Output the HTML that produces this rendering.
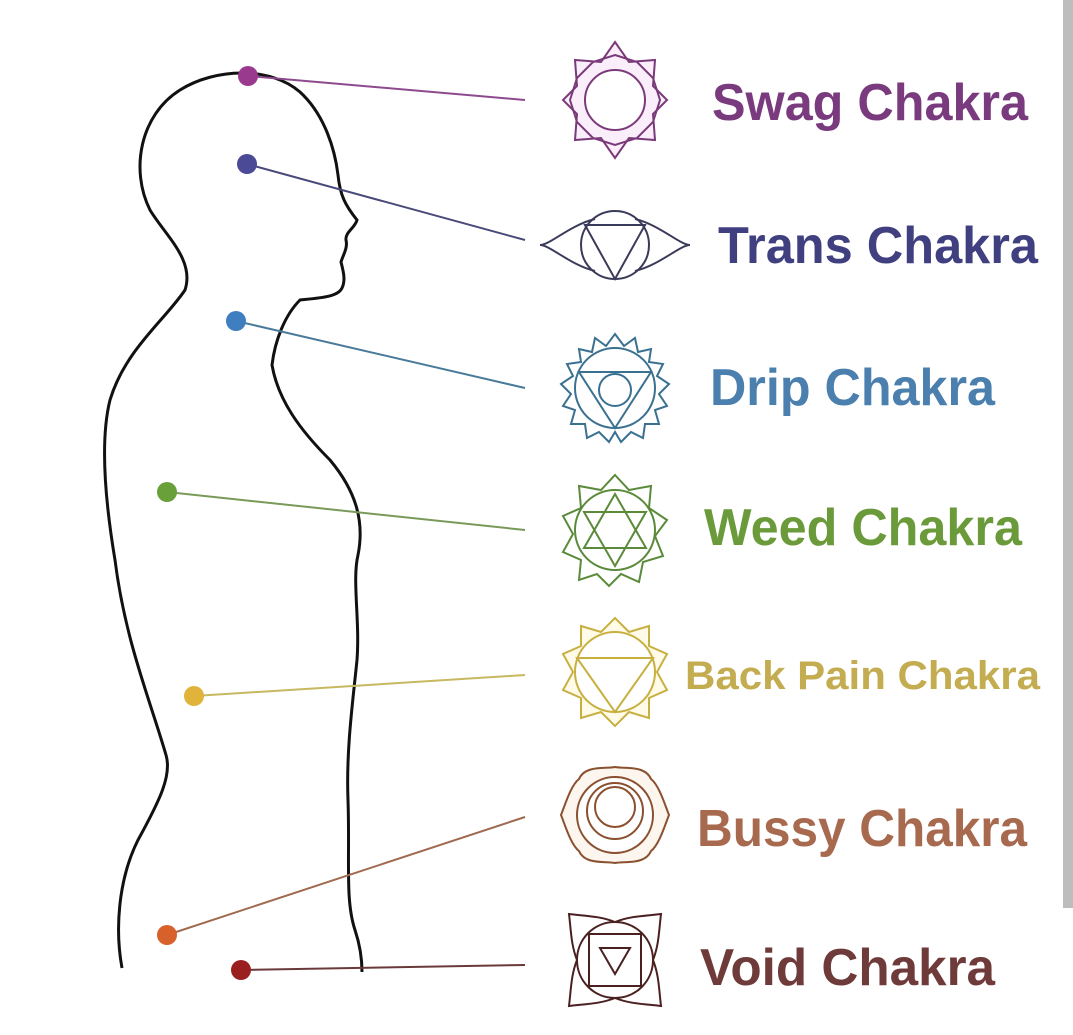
<!DOCTYPE html>
<html><head><meta charset="utf-8"><style>
html,body{margin:0;padding:0;background:#fff;width:1073px;height:1035px;overflow:hidden}
svg{display:block}
text{font-family:"Liberation Sans",sans-serif;font-weight:bold}
</style></head><body>
<svg width="1073" height="1035" viewBox="0 0 1073 1035" xmlns="http://www.w3.org/2000/svg">
<rect x="1063" y="0" width="10" height="908" fill="#bdbdbd"/>
<path d="M122,968 C115,930 118,880 138,840 C160,800 172,775 166,755 C150,700 125,640 115,560 C105,500 100,440 110,400 C125,350 165,320 185,290 C195,260 165,235 150,210 C130,170 140,115 180,90 C215,68 270,66 300,92 C325,115 335,150 338,175 C340,195 345,205 357,220 C355,228 345,232 346,240 C348,248 343,255 341,262 C343,270 346,280 342,288 C338,297 320,298 300,300 C285,315 275,340 272,365 C278,400 300,430 330,460 C355,490 365,520 358,555 C352,580 360,620 357,660 C353,700 346,750 348,800 C350,860 345,900 355,930 C360,945 362,960 362,972" fill="none" stroke="#111" stroke-width="3"/>
<g stroke-width="2" fill="none">
<line x1="248" y1="76" x2="525" y2="100" stroke="#8e4a8e"/>
<line x1="247" y1="164" x2="525" y2="240" stroke="#4a4a7a"/>
<line x1="236" y1="321" x2="525" y2="388" stroke="#4a7a9a"/>
<line x1="167" y1="492" x2="525" y2="530" stroke="#7a9a5a"/>
<line x1="194" y1="696" x2="525" y2="675" stroke="#c8b860"/>
<line x1="167" y1="935" x2="525" y2="817" stroke="#a06a50"/>
<line x1="241" y1="970" x2="525" y2="965" stroke="#6a3a3a"/>
</g>
<circle cx="248" cy="76" r="10" fill="#9a3a8e"/>
<circle cx="247" cy="164" r="10" fill="#4a4a96"/>
<circle cx="236" cy="321" r="10" fill="#3f7fbf"/>
<circle cx="167" cy="492" r="10" fill="#6aa03a"/>
<circle cx="194" cy="696" r="10" fill="#e0b43a"/>
<circle cx="167" cy="935" r="10" fill="#d8602a"/>
<circle cx="241" cy="970" r="10" fill="#9a2020"/>
<g fill="none" stroke-width="2">
<g stroke="#7a3a7a" transform="translate(615,100)">
<polygon points="0,-58 14,-38 40,-40 38,-14 52,0 38,14 40,40 14,38 0,58 -14,38 -40,40 -38,14 -52,0 -38,-14 -40,-40 -14,-38" fill="#fbeefb"/>
<polygon points="0,-45 22,-38 38,-22 45,0 38,22 22,38 0,45 -22,38 -38,22 -45,0 -38,-22 -22,-38"/>
<circle r="30" fill="#fff"/>
</g>
<g stroke="#3a3a5a" transform="translate(615,245)">
<path d="M-20,-26 C-45,-20 -65,0 -75,0 C-65,0 -45,20 -20,26"/>
<path d="M20,-26 C45,-20 65,0 75,0 C65,0 45,20 20,26"/>
<circle r="34"/>
<polygon points="-30,-20 30,-20 0,34"/>
</g>
<g stroke="#3a7090" transform="translate(615,388)">
<polygon points="0,-54 9,-42 20,-50 23,-36 36,-39 34,-26 48,-24 42,-12 54,-4 44,6 52,18 40,22 44,36 30,36 28,50 16,44 6,54 0,44 -6,54 -16,44 -28,50 -30,36 -44,36 -40,22 -52,18 -44,6 -54,-4 -42,-12 -48,-24 -34,-26 -36,-39 -23,-36 -20,-50 -9,-42"/>
<circle r="40"/>
<polygon points="-36,-16 36,-16 0,40"/>
<circle r="16" cy="2"/>
</g>
<g stroke="#5a8a3a" transform="translate(615,530)">
<polygon points="0,-55 14,-40 36,-44 34,-22 52,-10 40,6 48,26 28,32 24,52 6,44 -6,56 -18,44 -36,50 -34,30 -52,22 -42,4 -52,-14 -34,-22 -36,-44 -14,-40"/>
<circle r="40"/>
<polygon points="0,-36 31,18 -31,18"/>
<polygon points="0,36 31,-18 -31,-18"/>
</g>
<g stroke="#c8b040" transform="translate(615,672)">
<polygon points="0,-54 14,-40 34,-46 34,-26 52,-18 42,0 52,18 34,26 34,46 14,40 0,54 -14,40 -34,46 -34,26 -52,18 -42,0 -52,-18 -34,-26 -34,-46 -14,-40" fill="#fffbe8"/>
<circle r="40" fill="#fff"/>
<polygon points="-38,-14 38,-14 0,40"/>
</g>
<g stroke="#8a5030" transform="translate(615,815)">
<path d="M-36,-36 C-30,-50 -10,-46 0,-48 C10,-46 30,-50 36,-36 C44,-30 50,-10 54,0 C50,10 44,30 36,36 C30,50 10,46 0,48 C-10,46 -30,50 -36,36 C-44,30 -50,10 -54,0 C-50,-10 -44,-30 -36,-36Z" fill="#fdf6ee"/>
<circle r="38" fill="#fff"/>
<circle r="28" cy="-4"/>
<circle r="20" cy="-8"/>
</g>
<g stroke="#4a2020" transform="translate(615,960)">
<path d="M-46,-46 C-30,-44 -15,-44 0,-38 C15,-44 30,-44 46,-46 C44,-30 44,-15 38,0 C44,15 44,30 46,46 C30,44 15,44 0,38 C-15,44 -30,44 -46,46 C-44,30 -44,15 -38,0 C-44,-15 -44,-30 -46,-46Z"/>
<circle r="38"/>
<rect x="-26" y="-26" width="52" height="52"/>
<polygon points="-15,-12 15,-12 0,14"/>
</g>
</g>
<text x="712" y="120" font-size="52" fill="#7a3a7e" textLength="316" lengthAdjust="spacingAndGlyphs">Swag Chakra</text>
<text x="718" y="263" font-size="52" fill="#404080" textLength="320" lengthAdjust="spacingAndGlyphs">Trans Chakra</text>
<text x="710" y="405" font-size="52" fill="#4a7fae" textLength="285" lengthAdjust="spacingAndGlyphs">Drip Chakra</text>
<text x="704" y="545" font-size="52" fill="#6a9a3a" textLength="318" lengthAdjust="spacingAndGlyphs">Weed Chakra</text>
<text x="685" y="689" font-size="40" fill="#c4ac50" textLength="355" lengthAdjust="spacingAndGlyphs">Back Pain Chakra</text>
<text x="697" y="846" font-size="52" fill="#a86a4e" textLength="330" lengthAdjust="spacingAndGlyphs">Bussy Chakra</text>
<text x="700" y="985" font-size="52" fill="#6e3a3a" textLength="295" lengthAdjust="spacingAndGlyphs">Void Chakra</text>
</svg>
</body></html>
